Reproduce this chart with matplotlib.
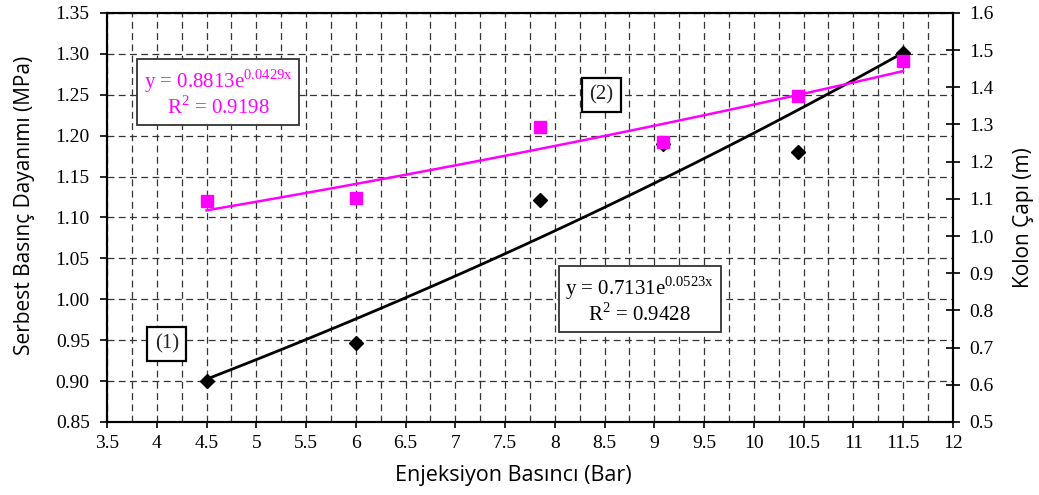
import numpy as np
import matplotlib
matplotlib.use("Agg")
from matplotlib import pyplot as plt
from matplotlib.ticker import MultipleLocator, FormatStrFormatter

# data
pressure = [4.5, 6.0, 7.85, 9.09, 10.44, 11.5]
strength = [0.900, 0.946, 1.121, 1.190, 1.180, 1.301]      # (1) left axis, MPa
diameter = [1.094, 1.103, 1.292, 1.252, 1.376, 1.470]      # (2) right axis, m

# exponential trend lines as printed on the chart
fit_strength = (0.7131, 0.0523, 0.9428)
fit_diameter = (0.8813, 0.0429, 0.9198)

plt.rcParams['mathtext.fontset'] = 'custom'
plt.rcParams['mathtext.rm'] = 'Liberation Serif'
serif = 'Liberation Serif'
sans = 'Open Sans'

fig = plt.figure(figsize=(10.39, 4.95), dpi=100)
ax = fig.add_axes([0.103, 0.1475, 0.814, 0.8265])
ax2 = ax.twinx()

ax.set_xlim(3.5, 12)
ax.set_ylim(0.85, 1.35)
ax2.set_ylim(0.5, 1.6)

ax.xaxis.set_major_locator(MultipleLocator(0.5))
ax.xaxis.set_minor_locator(MultipleLocator(0.25))
ax.xaxis.set_major_formatter(FormatStrFormatter('%g'))
ax.yaxis.set_major_locator(MultipleLocator(0.05))
ax.yaxis.set_major_formatter(FormatStrFormatter('%.2f'))
ax2.yaxis.set_major_locator(MultipleLocator(0.1))
ax2.yaxis.set_major_formatter(FormatStrFormatter('%.1f'))

grid_style = dict(color='#333333', linestyle=(0, (5.5, 3.5)), linewidth=0.9)
ax.grid(True, axis='x', which='both', **grid_style)
ax.grid(True, axis='y', which='major', **grid_style)
ax.set_axisbelow(True)

ax.tick_params(axis='x', which='major', direction='out', length=4.5, width=1.2, labelsize=14, pad=5)
ax.tick_params(axis='x', which='minor', length=0)
ax.tick_params(axis='y', direction='out', length=5, width=1.2, labelsize=14, pad=7.5)
ax2.tick_params(axis='y', direction='inout', length=9.5, width=1.2, labelsize=14, pad=7)
for a in (ax, ax2):
    for lab in a.get_xticklabels() + a.get_yticklabels():
        lab.set_fontfamily(serif)
    for sp in a.spines.values():
        sp.set_linewidth(1.5)
        sp.set_color('black')

ax.set_xlabel('Enjeksiyon Basıncı (Bar)', fontfamily=sans, fontsize=15.5, labelpad=7)
ax.set_ylabel('Serbest Basınç Dayanımı (MPa)', fontfamily=sans, fontsize=15, labelpad=14)
ax2.set_ylabel('Kolon Çapı (m)', fontfamily=sans, fontsize=15, labelpad=14)
ax.xaxis.set_label_coords(0.48, -0.105)
ax.yaxis.set_label_coords(-0.085, 0.53)

# trend lines
xs = np.linspace(min(pressure), max(pressure), 60)
ax.plot(xs, fit_strength[0] * np.exp(fit_strength[1] * xs), color='black', lw=2, zorder=3)
ax2.plot(xs, fit_diameter[0] * np.exp(fit_diameter[1] * xs), color='#ff00ff', lw=1.8, zorder=3)

# measured points
ax.plot(pressure, strength, linestyle='none', marker='D', ms=7, color='black', zorder=4)
ax2.plot(pressure, diameter, linestyle='none', marker='s', ms=8, color='#ff00ff', zorder=4)

box = dict(boxstyle='square,pad=0.3', facecolor='white', edgecolor='#333333', linewidth=1.3)
ax.text(4.615, 1.252,
        r'y = %.4fe$^{\mathrm{%.4fx}}$' % fit_diameter[:2] + '\n' + r'R$^{\mathrm{2}}$ = %.4f' % fit_diameter[2],
        color='#ff00ff', fontfamily=serif, fontsize=15, ha='center', va='center',
        linespacing=1.1, bbox=box, zorder=5)
ax.text(8.855, 0.999,
        r'y = %.4fe$^{\mathrm{%.4fx}}$' % fit_strength[:2] + '\n' + r'R$^{\mathrm{2}}$ = %.4f' % fit_strength[2],
        color='black', fontfamily=serif, fontsize=15, ha='center', va='center',
        linespacing=1.1, bbox=box, zorder=5)
ax.text(8.47, 1.25, '(2)', fontfamily=serif, fontsize=15, color='#222222',
        ha='center', va='center', bbox=dict(boxstyle='square,pad=0.35', facecolor='white',
                                            edgecolor='black', linewidth=1.6), zorder=5)
ax.text(4.10, 0.945, '(1)', fontfamily=serif, fontsize=15, color='#222222',
        ha='center', va='center', bbox=dict(boxstyle='square,pad=0.35', facecolor='white',
                                            edgecolor='black', linewidth=1.6), zorder=5)

fig.savefig('out.png', dpi=100)
